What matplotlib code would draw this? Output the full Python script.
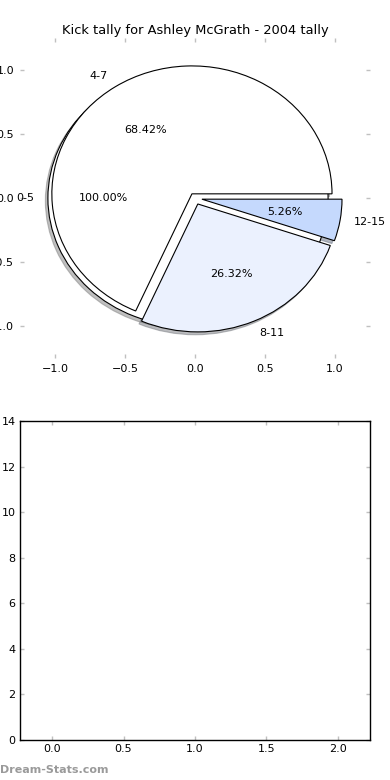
import matplotlib
matplotlib.use("Agg")
import matplotlib.pyplot as plt

# data
title = "Kick tally for Ashley McGrath - 2004 tally"
first_label = ["0-5"]
first_value = [1.0]          # drawn as a full wedge in the original (100.00%)
labels = ["4-7", "8-11", "12-15"]
counts = [13, 5, 1]
colors_first = ["white"]
colors = ["white", "#EBF1FE", "#C5D9FD"]
pie_ticks = [-1.0, -0.5, 0.0, 0.5, 1.0]
bar_yticks = [0, 2, 4, 6, 8, 10, 12, 14]
bar_xticks = [0.0, 0.5, 1.0, 1.5, 2.0]

plt.rcParams["font.family"] = "DejaVu Sans"
plt.rcParams["font.size"] = 8

fig = plt.figure(figsize=(3.9, 7.8), dpi=100)
tick_grey = "#c0c0c0"

# ---- top: pie ----
ax = fig.add_axes([0.051, 0.541, 0.898, 0.41])
wp = dict(edgecolor="black", linewidth=0.8)
shad = dict(ox=-0.013, oy=-0.016, shade=0.5)
ax.pie(first_value, labels=first_label, colors=colors_first, explode=[0.05],
       autopct="%1.2f%%", shadow=shad, startangle=0, wedgeprops=wp,
       textprops=dict(fontsize=8))
ax.pie(counts, labels=labels, colors=colors, explode=[0.04, 0.05, 0.05],
       autopct="%1.2f%%", shadow=shad, startangle=0, wedgeprops=wp,
       textprops=dict(fontsize=8))
ax.set_aspect("auto")
ax.set_xlim(-1.25, 1.25)
ax.set_ylim(-1.25, 1.25)
ax.set_frame_on(False)
ax.set_xticks(pie_ticks)
ax.set_yticks(pie_ticks)
ax.tick_params(direction="in", length=3, width=1, color=tick_grey,
               top=True, right=True, labelsize=8, pad=4)
ax.set_title(title, fontsize=9.4, pad=3)

# ---- bottom: empty bar axes ----
ax2 = fig.add_axes([0.051, 0.0513, 0.898, 0.409])
ax2.set_xlim(-0.225, 2.225)
ax2.set_ylim(0, 14)
ax2.set_xticks(bar_xticks)
ax2.set_yticks(bar_yticks)
ax2.tick_params(direction="in", length=3, width=1, color=tick_grey,
                top=True, right=True, labelsize=8, pad=3)
for s in ax2.spines.values():
    s.set_linewidth(1)

fig.text(0.0, 0.013, "Dream-Stats.com", color="#9a9a9a", fontsize=8,
         fontweight="bold", ha="left", va="center")

fig.savefig("out.png", dpi=100)
